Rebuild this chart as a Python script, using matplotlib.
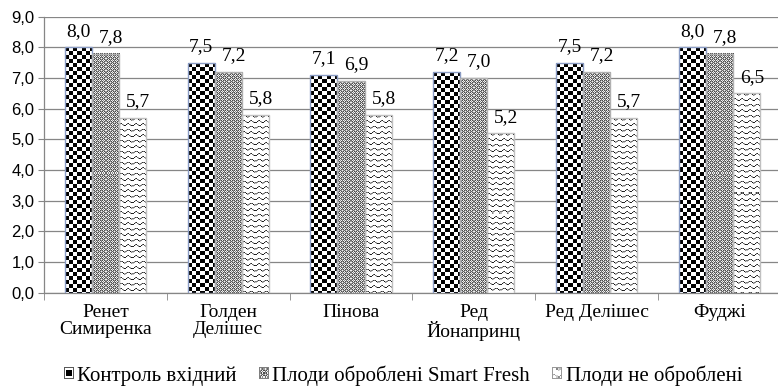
import numpy as np
import matplotlib
matplotlib.use('Agg')
import matplotlib.pyplot as plt
from matplotlib.legend_handler import HandlerBase
from matplotlib.image import BboxImage
from matplotlib.transforms import Bbox, TransformedBbox
from matplotlib.patches import Patch
from matplotlib.ticker import FuncFormatter, FixedLocator

categories = ['Ренет\nСимиренка', 'Голден\nДелішес', 'Пінова',
              'Ред\nЙонапринц', 'Ред Делішес', 'Фуджі']
control = [8.0, 7.5, 7.1, 7.2, 7.5, 8.0]
smart_fresh = [7.8, 7.2, 6.9, 7.0, 7.2, 7.8]
untreated = [5.7, 5.8, 5.8, 5.2, 5.7, 6.5]
series_names = ['Контроль вхідний', 'Плоди оброблені Smart Fresh', 'Плоди не оброблені']

SERIF = ['Liberation Serif']
plt.rcParams['font.family'] = 'serif'
plt.rcParams['font.serif'] = ['Liberation Serif', 'DejaVu Serif']


# fill textures (pixel patterns, not data)
def checker(h, w):
    yy, xx = np.mgrid[0:h, 0:w]
    v = ((yy // 4 + xx // 4) % 2).astype(float)
    return np.dstack([v, v, v])


def grey_dots(h, w):
    tile = np.array([[0.30, 0.60, 0.30, 0.95],
                     [0.60, 0.95, 0.60, 0.40],
                     [0.30, 0.60, 0.30, 0.95],
                     [0.95, 0.40, 0.95, 0.55]])
    v = np.tile(tile, (h // 4 + 1, w // 4 + 1))[:h, :w]
    return np.dstack([v, v, v])


def waves(h, w):
    yy, xx = np.mgrid[0:h, 0:w]
    ph = (yy + 1.0 * np.sin(2 * np.pi * xx / 7.0)) % 5.5
    v = np.clip(np.abs(ph - 0.6) / 0.8, 0, 1)
    return np.dstack([v, v, v])


def icon_checker(h, w):
    v = np.ones((h, w))
    v[0, :] = v[-1, :] = v[:, 0] = v[:, -1] = 0.35
    v[2:-2, 2:-2] = 0.0
    return np.dstack([v, v, v])


def icon_grey(h, w):
    v = grey_dots(h, w)[:, :, 0]
    v[0, :] = v[-1, :] = v[:, 0] = v[:, -1] = 0.5
    return np.dstack([v, v, v])


def icon_waves(h, w):
    v = waves(h, w)[:, :, 0] * 0.5 + 0.5
    v[0, :] = v[-1, :] = v[:, 0] = v[:, -1] = 0.6
    return np.dstack([v, v, v])


class TextureHandler(HandlerBase):
    def __init__(self, fn):
        super().__init__()
        self.fn = fn

    def create_artists(self, legend, orig_handle, xdescent, ydescent,
                       width, height, fontsize, trans):
        bb = TransformedBbox(Bbox.from_bounds(-xdescent, -ydescent, width, height), trans)
        im = BboxImage(bb, interpolation='nearest')
        im.set_data(self.fn(9, 9))
        return [im]


fig = plt.figure(figsize=(7.78, 3.87), dpi=100)
W, H = 778, 387
ax = fig.add_axes([44 / W, (H - 292.7) / H, (W - 44) / W, (292.7 - 16.7) / H])
xmax = -0.5 + (W - 44) / 122.8
ax.set_xlim(-0.5, xmax)
ax.set_ylim(0, 9)

x = np.arange(len(categories))
bw = 0.22
series = [control, smart_fresh, untreated]
fills = [checker, grey_dots, waves]
edges = ['#8a9cc4', '#b0b0b0', '#c0c0c0']
label_dx = [0, 4, 4]

for k, (vals, fn, ec) in enumerate(zip(series, fills, edges)):
    bars = ax.bar(x + (k - 1) * bw, vals, bw, facecolor='none',
                  edgecolor=ec, linewidth=1.0, zorder=4)
    for rect, v in zip(bars, vals):
        x0 = rect.get_x()
        p0 = ax.transData.transform((x0, 0))
        p1 = ax.transData.transform((x0 + bw, v))
        hp = max(int(round(p1[1] - p0[1])), 1)
        wp = max(int(round(p1[0] - p0[0])), 1)
        ax.imshow(fn(hp, wp), extent=(x0, x0 + bw, 0, v), aspect='auto',
                  interpolation='nearest', zorder=3)
        ax.annotate(f'{v:.1f}'.replace('.', ','), (x0 + bw / 2, v),
                    xytext=(label_dx[k], 5.5), textcoords='offset points',
                    ha='center', va='bottom', fontsize=14, family=SERIF)

ax.set_xlim(-0.5, xmax)
ax.set_ylim(0, 9)

ax.set_yticks(np.arange(0, 10, 1))
ax.yaxis.set_major_formatter(FuncFormatter(lambda v, p: f'{v:.1f}'.replace('.', ',')))
ax.tick_params(axis='y', length=4, color='#868686', pad=3, labelsize=12,
               labelfontfamily='Liberation Sans')
ax.yaxis.grid(True, color='#868686', linewidth=0.9)
ax.set_axisbelow(True)

ax.set_xticks(x)
ax.set_xticklabels(categories, fontsize=14, linespacing=1.0, family=SERIF)
ax.tick_params(axis='x', length=0, pad=8)
ax.xaxis.set_minor_locator(FixedLocator(np.arange(-0.5, 6, 1.0)))
ax.tick_params(axis='x', which='minor', length=5, color='#868686')

for s in ['top', 'right']:
    ax.spines[s].set_visible(False)
for s in ['left', 'bottom']:
    ax.spines[s].set_color('#868686')
    ax.spines[s].set_linewidth(0.9)

handles = [Patch(label=n) for n in series_names]
hmap = {h: TextureHandler(f) for h, f in zip(handles, [icon_checker, icon_grey, icon_waves])}
fig.legend(handles=handles, handler_map=hmap, loc='center', bbox_to_anchor=(403 / W, 1 - 376 / H),
           ncol=3, frameon=False, prop={'family': SERIF, 'size': 15},
           handlelength=0.45, handleheight=0.45, handletextpad=0.2, columnspacing=1.05)

fig.savefig('out.png', dpi=100)
